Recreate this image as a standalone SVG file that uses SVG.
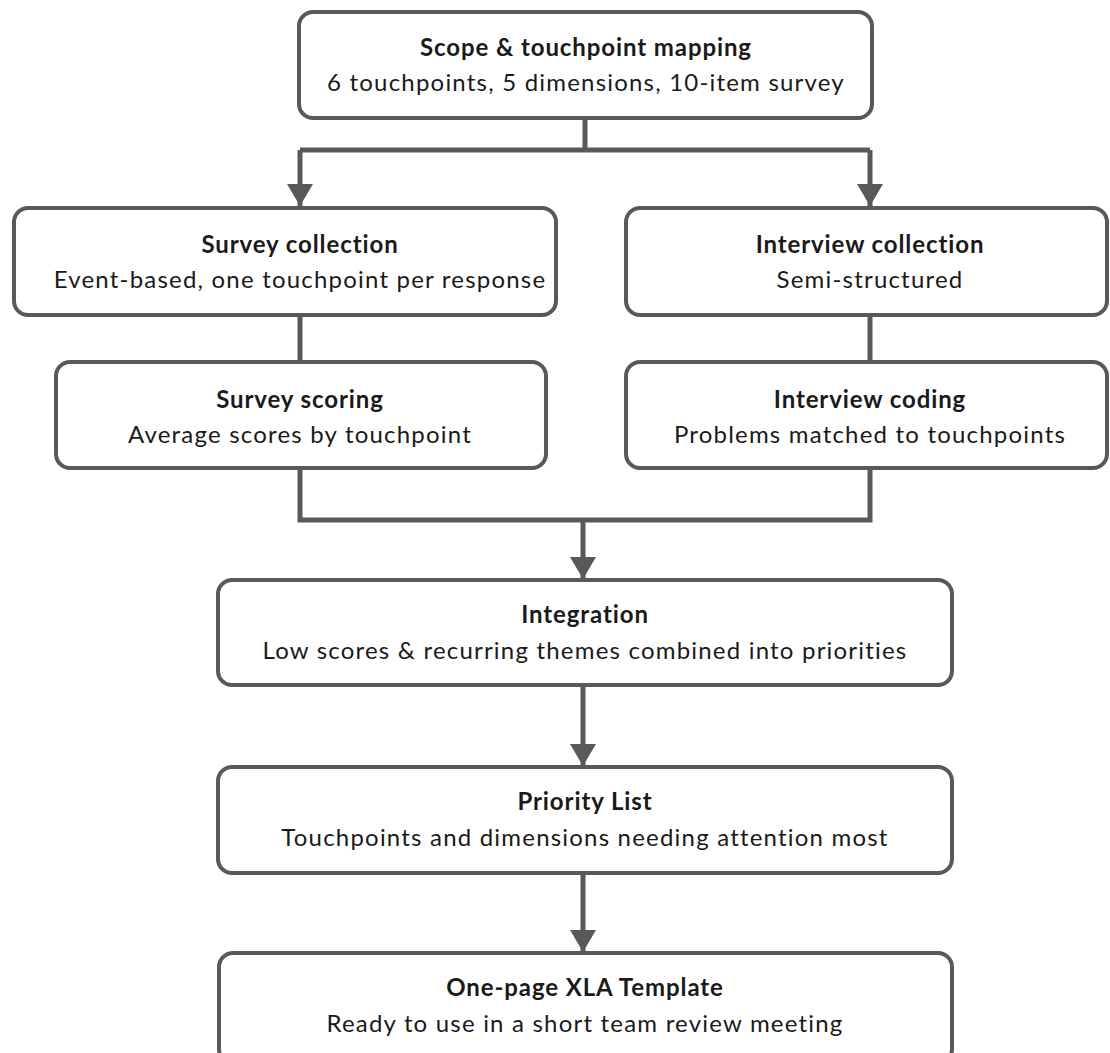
<svg xmlns="http://www.w3.org/2000/svg" width="1110" height="1053" viewBox="0 0 1110 1053">
<style>
.box{fill:#fff;stroke:#595959;stroke-width:4}
.t{font-family:Lato,"Liberation Sans",sans-serif;font-size:24px;letter-spacing:1.2px;fill:#1a1a1a;text-anchor:middle}
.b{font-weight:bold;letter-spacing:0.9px}
.c{fill:none;stroke:#595959;stroke-width:5}
</style>
<defs>
<marker id="ah" markerUnits="userSpaceOnUse" markerWidth="28" markerHeight="26" refX="22" refY="13" orient="auto" viewBox="0 0 28 26">
<path d="M0,0 L22,13 L0,26 Z" fill="#595959"/>
</marker>
</defs>
<rect width="1110" height="1053" fill="#fff"/>
<g id="connectors">
<path class="c" d="M585,118 V150 M300,150 H870"/>
<path class="c" d="M300,150 V206" marker-end="url(#ah)"/>
<path class="c" d="M870,150 V206" marker-end="url(#ah)"/>
<path class="c" d="M300,315 V362 M870,315 V362"/>
<path class="c" d="M300,468 V520 H870 V468"/>
<path class="c" d="M583,520 V579" marker-end="url(#ah)"/>
<path class="c" d="M583,685 V766" marker-end="url(#ah)"/>
<path class="c" d="M583,873 V952" marker-end="url(#ah)"/>
</g>
<g id="scope">
<rect class="box" x="299" y="12" width="573" height="106" rx="14"/>
<text class="t b" x="586" y="56">Scope &amp; touchpoint mapping</text>
<text class="t" x="586" y="91">6 touchpoints, 5 dimensions, 10-item survey</text>
</g>
<g id="survey-collection">
<rect class="box" x="14" y="208" width="542" height="107" rx="14"/>
<text class="t b" x="300" y="253">Survey collection</text>
<text class="t" x="300" y="288">Event-based, one touchpoint per response</text>
</g>
<g id="interview-collection">
<rect class="box" x="626" y="208" width="481" height="107" rx="14"/>
<text class="t b" x="870" y="253">Interview collection</text>
<text class="t" x="870" y="288">Semi-structured</text>
</g>
<g id="survey-scoring">
<rect class="box" x="56" y="362" width="490" height="106" rx="14"/>
<text class="t b" x="300" y="408">Survey scoring</text>
<text class="t" x="300" y="443">Average scores by touchpoint</text>
</g>
<g id="interview-coding">
<rect class="box" x="626" y="362" width="481" height="106" rx="14"/>
<text class="t b" x="870" y="408">Interview coding</text>
<text class="t" x="870" y="443">Problems matched to touchpoints</text>
</g>
<g id="integration">
<rect class="box" x="218" y="580" width="734" height="105" rx="14"/>
<text class="t b" x="585" y="623">Integration</text>
<text class="t" x="585" y="659">Low scores &amp; recurring themes combined into priorities</text>
</g>
<g id="priority">
<rect class="box" x="218" y="767" width="734" height="106" rx="14"/>
<text class="t b" x="585" y="810">Priority List</text>
<text class="t" x="585" y="846">Touchpoints and dimensions needing attention most</text>
</g>
<g id="template">
<rect class="box" x="219" y="953" width="733" height="110" rx="14"/>
<text class="t b" x="585" y="996">One-page XLA Template</text>
<text class="t" x="585" y="1032">Ready to use in a short team review meeting</text>
</g>
</svg>
